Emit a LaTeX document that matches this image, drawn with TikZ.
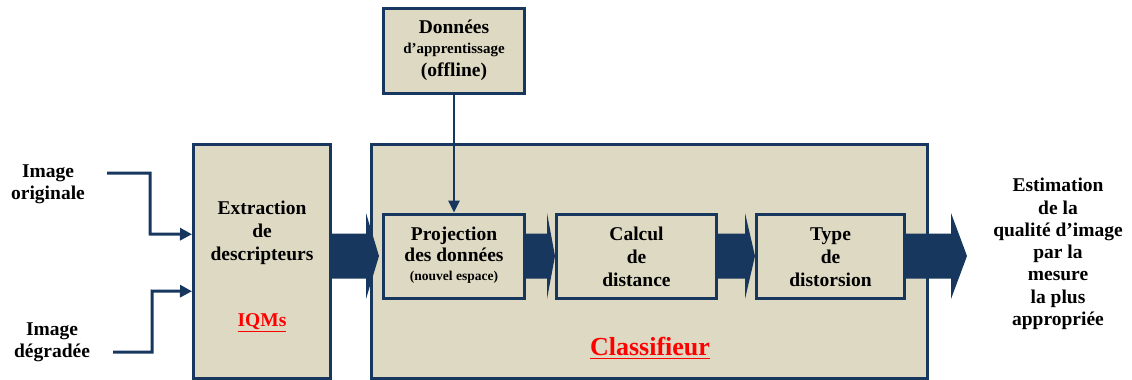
\documentclass[tikz,border=0pt]{standalone}
\usepackage{fontspec}
\setmainfont{Liberation Serif}
\usetikzlibrary{arrows.meta,calc}
\definecolor{navyline}{HTML}{17375E}
\definecolor{boxbeige}{HTML}{DDD9C3}
\tikzset{
  blockbox/.style={draw=navyline,fill=boxbeige,line width=3pt,inner sep=0pt},
  blocktext/.style={font=\bfseries\fontsize{19.5}{23}\selectfont,align=center,inner sep=0pt},
  inline/.style={draw=navyline,line width=3pt,-{Triangle[length=12pt,width=12pt]}},
}
% fat arrow from #1 to tip #2, head length #3
\newcommand{\fatarrow}[3]{%
  \fill[navyline] let \p1=(#1), \p2=(#2) in
    (\x1,\y1+22.5pt) -- (\x2-#3,\y1+22.5pt) -- (\x2-#3,\y1+43pt) -- (\x2,\y1)
    -- (\x2-#3,\y1-43pt) -- (\x2-#3,\y1-22.5pt) -- (\x1,\y1-22.5pt) -- cycle;}
\begin{document}
\begin{tikzpicture}[x=1pt,y=-1pt]
\useasboundingbox (0,0) rectangle (1132,380);
% main blocks
\node[blockbox,minimum width=556pt,minimum height=234.5pt] (classif) at (649.5,261.25) {};
\node[blockbox,minimum width=137pt,minimum height=234.5pt] (extract) at (262,261.25) {};
\node[blockbox,minimum width=140.5pt,minimum height=84.5pt] (donnees) at (454,50.75) {};
\node[blockbox,minimum width=141pt,minimum height=84pt] (proj) at (454,256) {};
\node[blockbox,minimum width=160pt,minimum height=84pt] (calcul) at (636.5,256) {};
\node[blockbox,minimum width=148pt,minimum height=84pt] (type) at (830.5,256) {};
% texts
\node[blocktext] (donneestxt) at (454,50) {Donn\'ees\\[-3pt]{\fontsize{15}{19}\selectfont d'apprentissage}\\(offline)};
\node[blocktext] (extracttxt) at (262,233) {Extraction\\de\\descripteurs};
\node[blocktext,text=red] (iqms) at (262,323) {\underline{IQMs}};
\node[blocktext,font=\bfseries\fontsize{26}{28}\selectfont,text=red] (classiftxt) at (650,348) {\underline{Classifieur}};
\node[blocktext] (projtxt) at (454,255) {Projection\\[-2pt]des donn\'ees\\[-4pt]{\fontsize{13.5}{16}\selectfont (nouvel espace)}};
\node[blocktext] (calcultxt) at (636.5,257) {Calcul\\de\\distance};
\node[blocktext] (typetxt) at (830.5,257) {Type\\de\\distorsion};
\node[blocktext,font=\bfseries\fontsize{19.5}{22.3}\selectfont] (estim) at (1058,254) {Estimation\\de la\\qualit\'e d'image\\par la\\mesure\\la plus\\appropri\'ee};
\node[blocktext,font=\bfseries\fontsize{19.5}{22}\selectfont] (imgorig) at (48,184) {Image\\originale};
\node[blocktext,font=\bfseries\fontsize{19.5}{22}\selectfont] (imgdeg) at (52,342) {Image\\d\'egrad\'ee};
% inputs
\coordinate (inorig) at (107,173);
\coordinate (indeg) at (113,352);
\draw[inline] (inorig) -| (150,234) -- ([yshift=27pt]extract.west);
\draw[inline] (indeg) -| (152,291) -- ([yshift=-30pt]extract.west);
\draw[navyline,line width=2.5pt,-{Triangle[length=12pt,width=11pt]}] (donnees.south) -- (proj.north);
% fat arrows
\fatarrow{proj.west -| extract.east}{[xshift=-3pt]proj.west}{13pt}
\fatarrow{proj.east}{calcul.west}{8pt}
\fatarrow{calcul.east}{type.west}{10pt}
\coordinate (outtip) at (967,254);
\fatarrow{type.east}{outtip}{16pt}
\end{tikzpicture}
\end{document}
